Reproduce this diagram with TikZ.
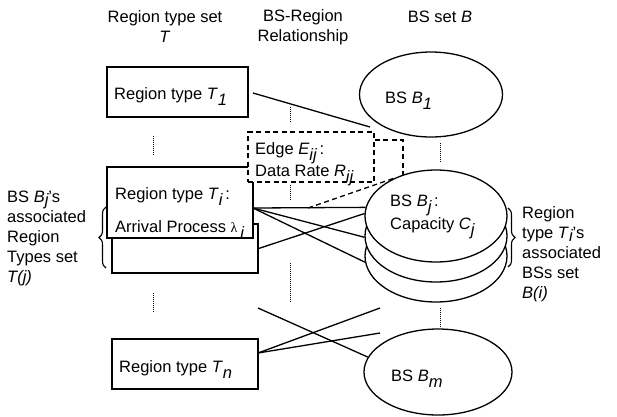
\documentclass[tikz,border=0pt]{standalone}
\usepackage{fontspec}
\setmainfont{Liberation Sans}
\newfontfamily\lamfont{Liberation Serif}
\usetikzlibrary{shapes.geometric,decorations.pathreplacing}
\newcommand{\sbx}[1]{\raisebox{-0.38em}[0pt][0pt]{\itshape #1}}
\newcommand{\sbs}[1]{\raisebox{-0.22em}[0pt][0pt]{\itshape #1}}
\begin{document}
\begin{tikzpicture}[x=1pt,y=-1pt,
  every node/.style={font=\fontsize{16.5}{20}\selectfont, inner sep=0pt},
  rbox/.style={draw, line width=1.3pt, fill=white, rectangle},
  oval/.style={draw, line width=1.3pt, fill=white, ellipse},
  conn/.style={line width=1.3pt},
  dotline/.style={line width=1pt, dash pattern=on 1pt off 1pt},
  dashline/.style={line width=1.3pt, dash pattern=on 5pt off 3.5pt},
  lbl/.style={anchor=base west}]
\useasboundingbox (0,0) rectangle (617,416);

% headers
\node[align=center] (h1) at (165,27) {Region type set\\\textit{T}};
\node[align=center] (h2) at (303,27) {BS-Region\\Relationship};
\node (h3) at (440,17) {BS set \textit{B}};

% region type boxes
\node[rbox, minimum width=141pt, minimum height=50pt] (T1) at (177.5,92) {};
\node[lbl] (T1t) at (114,99) {Region type \textit{T}\sbx{1}};

\node[rbox, minimum width=146pt, minimum height=49pt] (Tib) at (185,248.5) {};
\node[rbox, minimum width=146pt, minimum height=71pt] (Ti) at (180,202.5) {};
\node[lbl] (Tit1) at (115,199) {Region type \textit{T}\sbx{i}\,:};
\node[lbl] (Tit2) at (115,232) {Arrival Process {\lamfont\fontsize{14}{14}\selectfont λ}\,\sbx{i}};

\node[rbox, minimum width=146pt, minimum height=50pt] (Tn) at (185,364) {};
\node[lbl] (Tnt) at (119,372) {Region type \textit{T}\sbx{n}};

% connector coordinates
\coordinate (t1s) at (253,93);
\coordinate (t1e) at (370,127);
\coordinate (ti) at (253,208);
\coordinate (tn) at (258,353);
\coordinate (fe1) at (380,308);
\coordinate (fe2) at (380,333);
\coordinate (fs1) at (258,308);
\coordinate (eh) at (308,208);

% dotted continuation marks
\draw[dotline] (153,136) -- (153,155);
\draw[dotline] (153,293) -- (153,313);
\draw[dotline] (290,107) -- (290,122);
\draw[dotline] (290,185) -- (290,201);
\draw[dotline] (290,263) -- (290,302);
\draw[dotline] (440,143) -- (440,162);
\draw[dotline] (440,308) -- (440,328);

% edge label box
\node[draw, fill=white, dashline, minimum width=126pt, minimum height=50pt] (E) at (311,157) {};
\node[lbl] (Et1) at (255,154) {Edge \textit{E}\sbx{ij}\,:};
\node[lbl] (Et2) at (255,176) {Data Rate \textit{R}\sbx{ij}};
\coordinate (ext) at (403,180);
\draw[dashline] ([yshift=17pt]E.east) -| (ext);

% BS ellipses (connector ends defined by angle anchors)
\node[oval, minimum width=142pt, minimum height=92pt] (Bj3) at (436,256) {};
\node[oval, minimum width=142pt, minimum height=92pt] (Bj2) at (436,236) {};
\node[oval, minimum width=142pt, minimum height=92pt, fill=none, draw=none] (Bj) at (436,216) {};

% connectors
\draw[conn] (t1s) -- (t1e);
\draw[conn] (ti) -- (Bj.173.5);
\draw[conn] (ti) -- (Bj2.181.6);
\draw[conn] (ti) -- (Bj3.185.7);
\draw[conn] (Tib.east) -- (Bj.178.4);
\draw[dashline] (eh) -- (Bj.138.5);
\draw[conn] (tn) -- (fe1);
\draw[conn] (tn) -- (fe2);

\node[oval, minimum width=142pt, minimum height=92pt] (Bjtop) at (436,216) {};
\node[lbl] (Bjt1) at (390,206) {BS \textit{B}\sbx{j}\,:};
\node[lbl] (Bjt2) at (390,229) {Capacity \textit{C}\sbx{j}};

\node[oval, minimum width=143pt, minimum height=85pt] (B1) at (431,94.5) {};
\node[lbl] (B1t) at (385,103) {BS \textit{B}\sbx{1}};

\node[oval, minimum width=148pt, minimum height=86pt] (Bm) at (438,372) {};
\node[lbl] (Bmt) at (391,381) {BS \textit{B}\sbx{m}};
\draw[conn] (fs1) -- (Bm.168.8);

% braces
\draw[line width=1.1pt, decorate, decoration={brace, amplitude=7pt}] (106,268) -- (106,207);
\draw[line width=1.1pt, decorate, decoration={brace, amplitude=7pt}] (508,208) -- (508,267);

% side texts
\node[anchor=west, align=left] (lt) at (7,238) {BS \textit{B}\sbs{j}'s\\associated\\Region\\Types set\\\textit{T(j)}};
\node[anchor=west, align=left] (rt) at (522,254) {Region\\type \textit{T}\sbs{i}'s\\associated\\BSs set\\\textit{B(i)}};
\end{tikzpicture}
\end{document}
